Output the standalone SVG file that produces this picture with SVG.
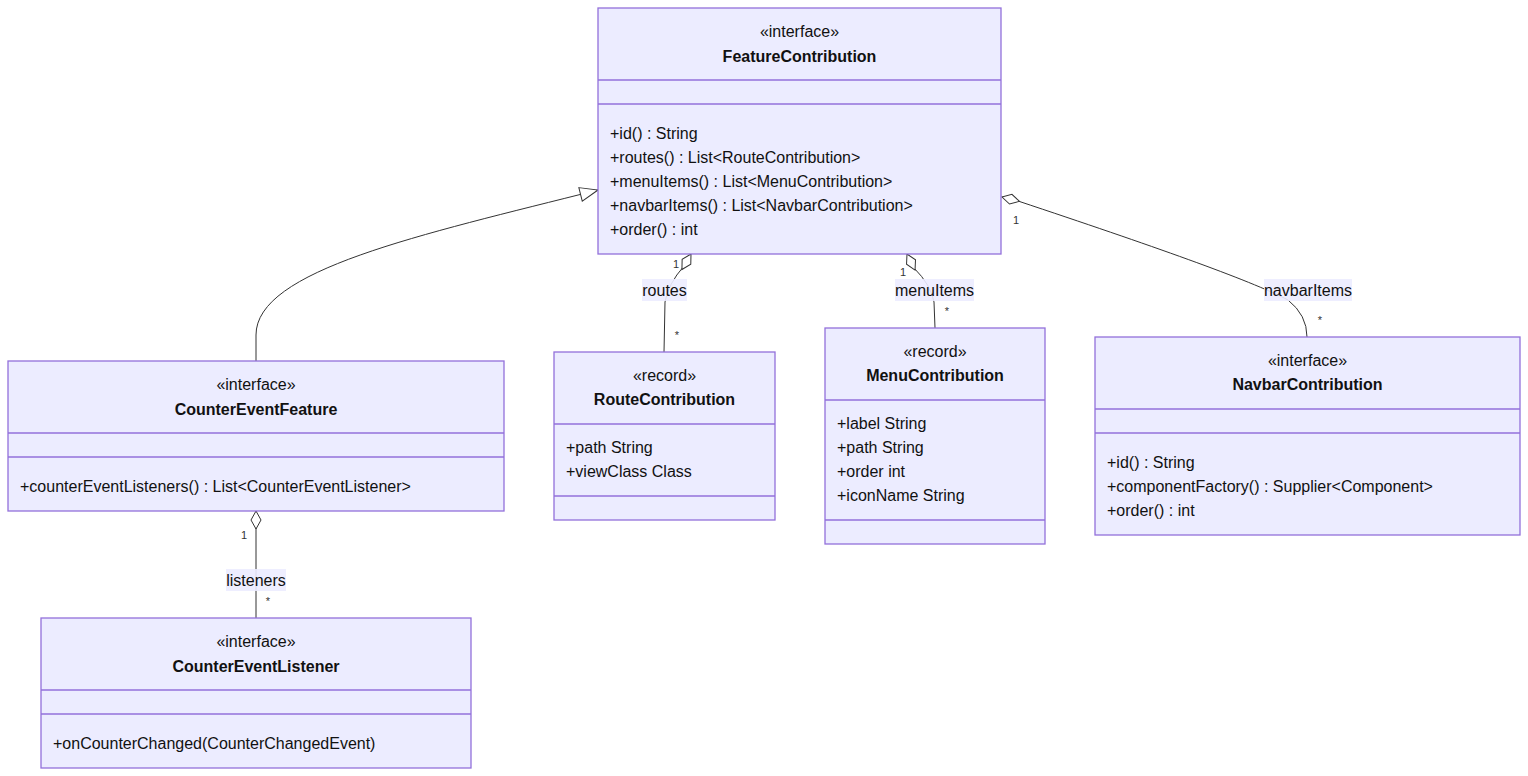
<svg xmlns="http://www.w3.org/2000/svg" width="1528" height="776" viewBox="0 0 1528 776">
<style>
.box{fill:#ECECFF;stroke:#9370DB;stroke-width:1.3}
.div{stroke:#9370DB;stroke-width:1.3}
text{font-family:"Liberation Sans",Arial,sans-serif;font-size:16px;fill:#111}
.c{text-anchor:middle}
.b{font-weight:bold}
.m{dominant-baseline:central}
.edge{fill:none;stroke:#333;stroke-width:1}
.lbg{fill:#ECECFF;opacity:0.9}
text.mult{font-size:11px;fill:#333}
</style>
<defs>
<marker id="dia" markerUnits="userSpaceOnUse" markerWidth="20" markerHeight="12" refX="0" refY="6" orient="auto" overflow="visible">
<path d="M0,6 L9,1 L18,6 L9,11 Z" fill="#fff" stroke="#333" stroke-width="1"/>
</marker>
<marker id="tri" markerUnits="userSpaceOnUse" markerWidth="20" markerHeight="14" refX="18" refY="7" orient="auto" overflow="visible">
<path d="M0,0 L18,7 L0,14 Z" fill="#fff" stroke="#333" stroke-width="1"/>
</marker>
</defs>
<g id="connectors">
<path class="edge" d="M256,361 V335 C256,270 420,235 598,190" marker-end="url(#tri)"/>
<path class="edge" d="M691,254 L684,266 Q668,284 665,302 L664,352" marker-start="url(#dia)"/>
<path class="edge" d="M907,254 L914,268 Q931,285 934,302 L935,328" marker-start="url(#dia)"/>
<path class="edge" d="M1002,197 L1018,201 C1150,245 1250,280 1288,300 Q1307,315 1307,337" marker-start="url(#dia)"/>
<path class="edge" d="M256,511 V618" marker-start="url(#dia)"/>
<rect class="lbg" x="642" y="279" width="45" height="22"/>
<text class="c m" x="664.5" y="290">routes</text>
<rect class="lbg" x="895" y="279" width="79" height="22"/>
<text class="c m" x="934.5" y="290">menuItems</text>
<rect class="lbg" x="1264" y="279" width="88" height="22"/>
<text class="c m" x="1308" y="290">navbarItems</text>
<rect class="lbg" x="226" y="569" width="60" height="22"/>
<text class="c m" x="256" y="580">listeners</text>
<text class="mult c m" x="676" y="264">1</text>
<text class="mult c m" x="677" y="335">*</text>
<text class="mult c m" x="903" y="272">1</text>
<text class="mult c m" x="947" y="311">*</text>
<text class="mult c m" x="1016" y="220">1</text>
<text class="mult c m" x="1320" y="320">*</text>
<text class="mult c m" x="244" y="535">1</text>
<text class="mult c m" x="268" y="601">*</text>
</g>
<g id="FeatureContribution">
<rect class="box" x="598" y="8" width="403" height="246"/>
<line class="div" x1="598" y1="80" x2="1001" y2="80"/>
<line class="div" x1="598" y1="104" x2="1001" y2="104"/>
<text class="c m" x="799.5" y="31">«interface»</text>
<text class="c m b" x="799.5" y="56">FeatureContribution</text>
<text class="m" x="610" y="133">+id() : String</text>
<text class="m" x="610" y="157">+routes() : List&lt;RouteContribution&gt;</text>
<text class="m" x="610" y="181">+menuItems() : List&lt;MenuContribution&gt;</text>
<text class="m" x="610" y="205">+navbarItems() : List&lt;NavbarContribution&gt;</text>
<text class="m" x="610" y="229">+order() : int</text>
</g>
<g id="CounterEventFeature">
<rect class="box" x="8" y="361" width="496" height="150"/>
<line class="div" x1="8" y1="433" x2="504" y2="433"/>
<line class="div" x1="8" y1="457" x2="504" y2="457"/>
<text class="c m" x="256" y="384">«interface»</text>
<text class="c m b" x="256" y="409">CounterEventFeature</text>
<text class="m" x="20" y="486">+counterEventListeners() : List&lt;CounterEventListener&gt;</text>
</g>
<g id="CounterEventListener">
<rect class="box" x="41" y="618" width="430" height="150"/>
<line class="div" x1="41" y1="690" x2="471" y2="690"/>
<line class="div" x1="41" y1="714" x2="471" y2="714"/>
<text class="c m" x="256" y="641">«interface»</text>
<text class="c m b" x="256" y="666">CounterEventListener</text>
<text class="m" x="53" y="743">+onCounterChanged(CounterChangedEvent)</text>
</g>
<g id="RouteContribution">
<rect class="box" x="554" y="352" width="221" height="168"/>
<line class="div" x1="554" y1="424" x2="775" y2="424"/>
<line class="div" x1="554" y1="496" x2="775" y2="496"/>
<text class="c m" x="664.5" y="375">«record»</text>
<text class="c m b" x="664.5" y="399">RouteContribution</text>
<text class="m" x="566" y="447">+path String</text>
<text class="m" x="566" y="471">+viewClass Class</text>
</g>
<g id="MenuContribution">
<rect class="box" x="825" y="328" width="220" height="216"/>
<line class="div" x1="825" y1="400" x2="1045" y2="400"/>
<line class="div" x1="825" y1="520" x2="1045" y2="520"/>
<text class="c m" x="935" y="351">«record»</text>
<text class="c m b" x="935" y="375">MenuContribution</text>
<text class="m" x="837" y="423">+label String</text>
<text class="m" x="837" y="447">+path String</text>
<text class="m" x="837" y="471">+order int</text>
<text class="m" x="837" y="495">+iconName String</text>
</g>
<g id="NavbarContribution">
<rect class="box" x="1095" y="337" width="425" height="198"/>
<line class="div" x1="1095" y1="409" x2="1520" y2="409"/>
<line class="div" x1="1095" y1="433" x2="1520" y2="433"/>
<text class="c m" x="1307.5" y="360">«interface»</text>
<text class="c m b" x="1307.5" y="384">NavbarContribution</text>
<text class="m" x="1107" y="462">+id() : String</text>
<text class="m" x="1107" y="486">+componentFactory() : Supplier&lt;Component&gt;</text>
<text class="m" x="1107" y="510">+order() : int</text>
</g>
</svg>
